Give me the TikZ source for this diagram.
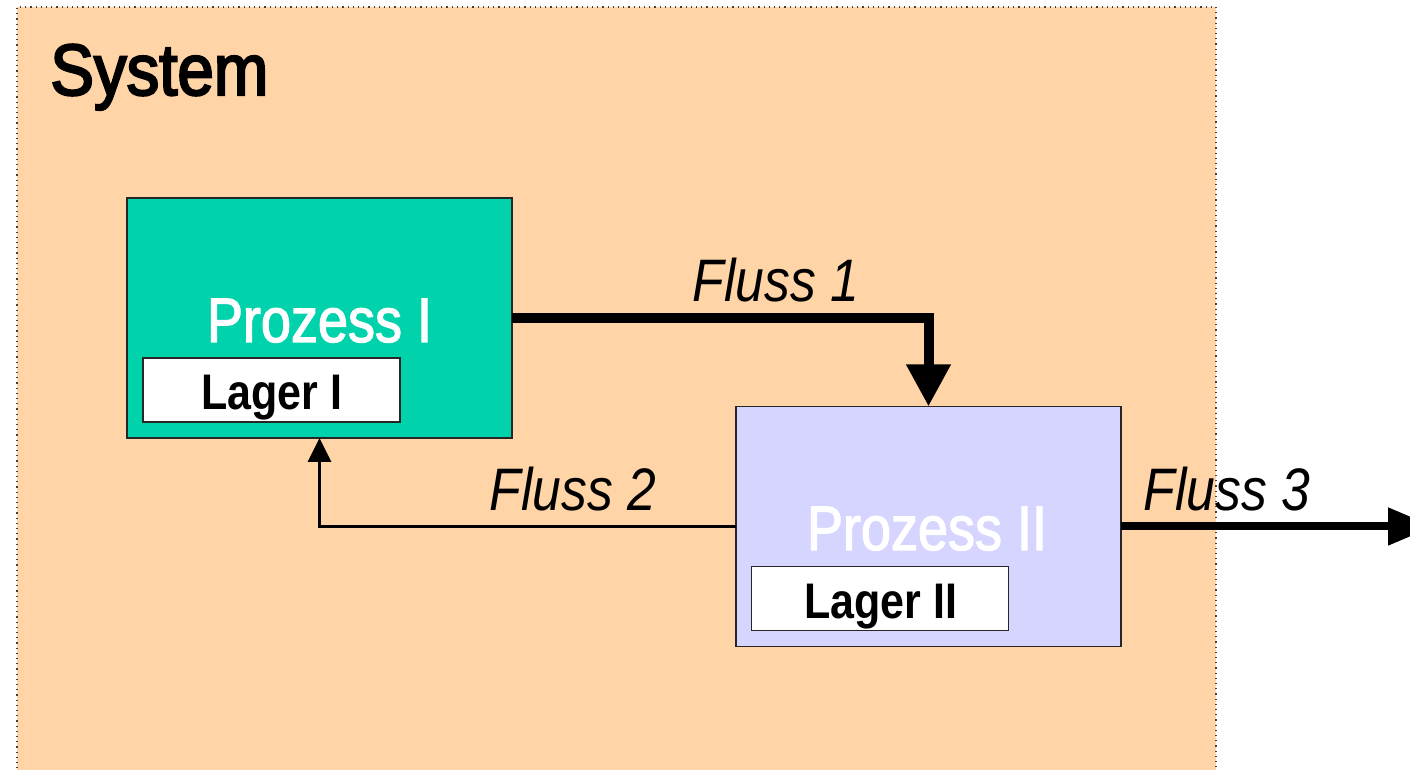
\documentclass[tikz,border=0pt]{standalone}
\usepackage{fontspec}
\setmainfont{Liberation Sans}[FakeStretch=0.86]
\newfontfamily\heavyfont{Liberation Sans}[FakeStretch=0.86,FakeBold=2]
\newfontfamily\titlefont{Liberation Sans}[FakeStretch=0.9,FakeBold=3]
\usetikzlibrary{arrows.meta}
\definecolor{peach}{RGB}{255,213,168}
\definecolor{tealbox}{RGB}{0,210,172}
\definecolor{lavbox}{RGB}{213,213,255}
\begin{document}
\begin{tikzpicture}[x=0.5pt,y=-0.5pt,
  sysbox/.style={draw=black!75, dotted, line width=0.6pt, fill=peach, minimum width=599.5pt, minimum height=386.5pt, inner sep=0, outer sep=0},
  procbox/.style={draw=black!85, line width=0.8pt, minimum width=192.5pt, minimum height=120pt, inner sep=0, outer sep=0},
  storebox/.style={draw=black!85, line width=0.8pt, fill=white, minimum width=128.5pt, minimum height=32pt, inner sep=0, outer sep=0},
  proctext/.style={anchor=base, inner sep=0, text=white, font=\heavyfont\fontsize{31.4}{36}\selectfont},
  storetext/.style={anchor=base, inner sep=0, font=\bfseries\fontsize{25}{30}\selectfont},
  flowtext/.style={anchor=base, inner sep=0, font=\itshape\fontsize{30}{34}\selectfont},
  thickflow/.style={line width=5pt, -{Triangle[length=21pt,width=21pt]}},
  outflow/.style={line width=4pt, -{Triangle[length=23pt,width=18pt]}},
  thinflow/.style={line width=1.5pt, -{Triangle[length=12pt,width=11.5pt]}}
]
\useasboundingbox (0,0) rectangle (1410,770);
\node[sysbox] (sys) at (616.5,393.5) {};
\node[anchor=base west, inner sep=0, font=\titlefont\fontsize{36.3}{40}\selectfont] (systitle) at (50,95) {System};

\node[procbox, fill=tealbox] (p1) at (319.5,318) {};
\node[storebox] (l1) at (271.5,390) {};
\node[proctext] (p1t) at (319.5,342) {Prozess I};
\node[storetext] (l1t) at (272,410) {Lager I};

\node[procbox, fill=lavbox] (p2) at (928.5,526.5) {};
\node[storebox] (l2) at (880,598.5) {};
\node[proctext] (p2t) at (927,550) {Prozess II};
\node[storetext] (l2t) at (881,618) {Lager II};

\draw[thickflow] (p1.east) -| (p2.north);
\draw[thinflow] (p2.west) -| (p1.south);
\coordinate (out) at (1434,526.5);
\draw[outflow] (p2.east) -- (out);

\node[flowtext] (f1) at (776,302) {Fluss 1};
\node[flowtext] (f2) at (573,510) {Fluss 2};
\node[flowtext] (f3) at (1227,510) {Fluss 3};
\end{tikzpicture}
\end{document}
